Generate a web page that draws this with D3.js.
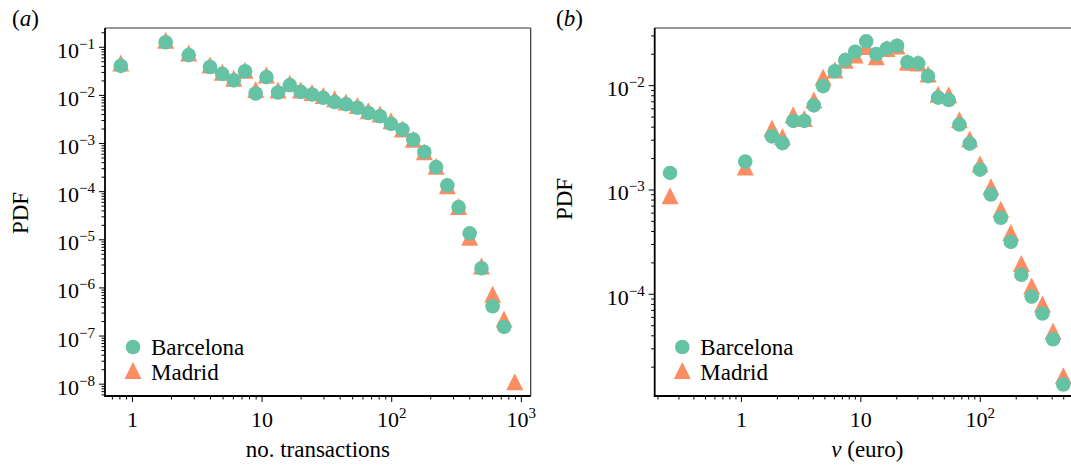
<!DOCTYPE html>
<html>
<head>
<meta charset="utf-8">
<script src="https://cdn.jsdelivr.net/npm/d3@7"></script>
<style>
  html, body { margin: 0; padding: 0; background: #fff; }
  svg { display: block; }
  svg text { font-family: "Liberation Serif", "Times New Roman", serif; }
</style>
</head>
<body>
<svg id="chart" width="1071" height="470"></svg>
<script>
// (a) distribution of number of transactions per card
const txBins = [0.82, 1.82, 2.74, 4.0, 4.97, 6.1, 7.45, 9.0, 10.9, 13.4, 16.5, 20.0, 24.5, 29.9, 36.6,
  44.8, 54.8, 66.6, 82, 99.6, 122, 148, 180, 222, 271, 331, 403, 497, 606, 742, 898];
const txBarcelona = [0.040, 0.124, 0.067, 0.038, 0.0274, 0.020, 0.031, 0.0107, 0.0234, 0.0112, 0.016,
  0.0116, 0.0102, 0.0087, 0.0071, 0.0064, 0.0054, 0.0042, 0.0036, 0.0025, 0.0019, 0.00118, 6.5e-4,
  3.16e-4, 1.32e-4, 4.65e-5, 1.33e-5, 2.5e-6, 4.05e-7, 1.51e-7, null];
const txMadrid = [0.046, 0.136, 0.074, 0.042, 0.0297, 0.0223, 0.0327, 0.0130, 0.026, 0.0127, 0.0175,
  0.0127, 0.0112, 0.0097, 0.0083, 0.0071, 0.0060, 0.0047, 0.0040, 0.0029, 0.00195, 0.0012, 6.6e-4,
  3.3e-4, 1.29e-4, 4.8e-5, 1.1e-5, 2.8e-6, 7.2e-7, 2.2e-7, 1.1e-8];

// (b) distribution of transaction value (euro)
const euroBins = [0.255, 1.087, 1.82, 2.23, 2.74, 3.39, 4.08, 4.88, 6.12, 7.47, 9.05, 11.2, 13.6, 16.7,
  20.3, 24.8, 30.5, 36.9, 44.8, 55, 67.6, 82.4, 100.6, 124, 150, 182, 223, 272, 335, 411, 501];
const euroBarcelona = [1.44e-3, 1.85e-3, 3.23e-3, 2.78e-3, 4.54e-3, 4.54e-3, 6.4e-3, 9.8e-3, 0.0136,
  0.0174, 0.0209, 0.0263, 0.0199, 0.0225, 0.0239, 0.0166, 0.0162, 0.0122, 7.6e-3, 7.2e-3, 4.19e-3,
  2.75e-3, 1.55e-3, 8.95e-4, 5.35e-4, 3.14e-4, 1.52e-4, 9.4e-5, 6.46e-5, 3.66e-5, 1.35e-5];
const euroMadrid = [8.7e-4, 1.64e-3, 3.86e-3, 3.2e-3, 5.2e-3, 4.8e-3, 7.2e-3, 0.0119, 0.014, 0.0173,
  0.0195, 0.0235, 0.0187, 0.0225, 0.0237, 0.0166, 0.0163, 0.0128, 8.2e-3, 8.1e-3, 4.65e-3, 3.05e-3,
  1.75e-3, 1.06e-3, 6.45e-4, 3.86e-4, 1.95e-4, 1.19e-4, 8.0e-5, 4.37e-5, 1.64e-5];

const cities = ['Barcelona', 'Madrid'];
const txMajorX = [1, 10, 100, 1000];
const txMajorY = [1e-8, 1e-7, 1e-6, 1e-5, 1e-4, 1e-3, 1e-2, 1e-1];
const euroMajorX = [1, 10, 100];
const euroMajorY = [1e-4, 1e-3, 1e-2];

const colBarcelona = '#66c2a5';
const colMadrid = '#fc8d62';
const serif = '"Liberation Serif", "Times New Roman", serif';

const svg = d3.select('#chart');

// minor ticks 2..9 of every decade that falls inside the domain
function minorTicks(domain) {
    const out = [];
    const lo = Math.floor(Math.log10(domain[0])), hi = Math.ceil(Math.log10(domain[1]));
    for (let e = lo; e <= hi; e++) {
        for (let m = 2; m <= 9; m++) {
            const v = m * Math.pow(10, e);
            if (v >= domain[0] && v <= domain[1]) out.push(v);
        }
    }
    return out;
}

// "10" with a superscript exponent, or plain 1 / 10
function powLabel(sel, v, plainSmall) {
    const e = Math.round(Math.log10(v));
    sel.text(null);
    if (plainSmall && e === 0) { sel.text('1'); return; }
    if (plainSmall && e === 1) { sel.text('10'); return; }
    sel.append('tspan').text('10');
    sel.append('tspan').attr('dy', -9).attr('font-size', 15)
        .text(e < 0 ? '\u2212' + (-e) : String(e));
}

function trianglePath(s) {
    return `M0,${-s / 2}L${s / 2},${s / 2}L${-s / 2},${s / 2}Z`;
}

function styleAxis(a) {
    a.select('.domain').remove();
    a.attr('font-family', serif).attr('font-size', 22);
    a.selectAll('.tick line').attr('stroke', '#000').attr('stroke-width', 1);
    a.selectAll('.tick text').attr('fill', '#000').attr('font-family', serif).attr('font-size', 22);
}

function drawPanel(p) {
    const g = svg.append('g').attr('font-family', serif);
    const x = d3.scaleLog().domain(p.xDomain).range([p.left, p.right]);
    const y = d3.scaleLog().domain(p.yDomain).range([p.bottom, p.top]);

    // minor ticks, no labels
    styleAxis(g.append('g').attr('transform', `translate(0,${p.bottom})`)
        .call(d3.axisBottom(x).tickValues(minorTicks(p.xDomain)).tickSize(3.5).tickFormat(() => '')));
    styleAxis(g.append('g').attr('transform', `translate(${p.left},0)`)
        .call(d3.axisLeft(y).tickValues(minorTicks(p.yDomain)).tickSize(3.5).tickFormat(() => '')));

    // major ticks with power-of-ten labels
    const ax = g.append('g').attr('transform', `translate(0,${p.bottom})`)
        .call(d3.axisBottom(x).tickValues(p.xMajor).tickSize(6));
    styleAxis(ax);
    ax.selectAll('.tick text').each(function (d) {
        const t = d3.select(this).attr('dy', null).attr('y', 31);
        powLabel(t, d, true);
    });
    const ay = g.append('g').attr('transform', `translate(${p.left},0)`)
        .call(d3.axisLeft(y).tickValues(p.yMajor).tickSize(6));
    styleAxis(ay);
    ay.selectAll('.tick text').each(function (d) {
        const t = d3.select(this).attr('dy', null).attr('y', 10.5).attr('x', -10);
        powLabel(t, d, false);
    });

    // spines
    g.append('line').attr('x1', p.left).attr('x2', p.right).attr('y1', p.top).attr('y2', p.top)
        .attr('stroke', '#333').attr('stroke-width', 1.2);
    if (p.rightSpine) {
        g.append('line').attr('x1', p.right).attr('x2', p.right).attr('y1', p.top).attr('y2', p.bottom)
            .attr('stroke', '#333').attr('stroke-width', 1.2);
    }
    g.append('line').attr('x1', p.left).attr('x2', p.left).attr('y1', p.top).attr('y2', p.bottom + 0.8)
        .attr('stroke', '#000').attr('stroke-width', 1.8);
    g.append('line').attr('x1', p.left - 0.8).attr('x2', p.right).attr('y1', p.bottom).attr('y2', p.bottom)
        .attr('stroke', '#000').attr('stroke-width', 1.8);

    // markers: Madrid first, Barcelona drawn on top
    const madrid = p.bins.map((b, i) => [b, p.madrid[i]]).filter(d => d[1] != null);
    const barca = p.bins.map((b, i) => [b, p.barca[i]]).filter(d => d[1] != null);
    g.append('g').selectAll('path').data(madrid).join('path')
        .attr('d', trianglePath(17))
        .attr('transform', d => `translate(${x(d[0])},${y(d[1])})`)
        .attr('fill', colMadrid);
    g.append('g').selectAll('circle').data(barca).join('circle')
        .attr('cx', d => x(d[0])).attr('cy', d => y(d[1])).attr('r', 7.3)
        .attr('fill', colBarcelona);

    // legend
    const lx = p.left + p.legendDx;
    const leg = g.append('g');
    leg.append('circle').attr('cx', lx).attr('cy', 347).attr('r', 7.3).attr('fill', colBarcelona);
    leg.append('path').attr('d', trianglePath(17)).attr('transform', `translate(${lx},370.5)`).attr('fill', colMadrid);
    leg.selectAll('text').data(cities).join('text')
        .attr('x', lx + 18).attr('y', (d, i) => 355 + i * 24.5)
        .attr('font-family', serif).attr('font-size', 23).text(d => d);

    // axis titles
    const xt = g.append('text').attr('x', (p.left + p.right) / 2).attr('y', 457)
        .attr('text-anchor', 'middle').attr('font-family', serif).attr('font-size', 23);
    if (p.xItalic) {
        xt.append('tspan').attr('font-style', 'italic').text(p.xItalic);
        xt.append('tspan').text(p.xTitle);
    } else {
        xt.text(p.xTitle);
    }
    g.append('text').attr('transform', `translate(${p.yTitleX},${p.yTitleY}) rotate(-90)`)
        .attr('text-anchor', 'middle').attr('dy', '0.35em')
        .attr('font-family', serif).attr('font-size', 23).text('PDF');

    const pl = g.append('text').attr('x', p.tagX).attr('y', 26)
        .attr('font-family', serif).attr('font-size', 23);
    pl.append('tspan').text('(');
    pl.append('tspan').attr('font-style', 'italic').text(p.tag);
    pl.append('tspan').text(')');
}

drawPanel({
    left: 105, right: 530.7, top: 28, bottom: 396,
    xDomain: [Math.pow(10, -0.208), Math.pow(10, 3.076)],
    yDomain: [Math.pow(10, -8.256), Math.pow(10, -0.61)],
    xMajor: txMajorX, yMajor: txMajorY,
    bins: txBins, barca: txBarcelona, madrid: txMadrid,
    rightSpine: true, legendDx: 28,
    xTitle: 'no. transactions', yTitleX: 20, yTitleY: 213,
    tag: 'a', tagX: 12
});

drawPanel({
    left: 654.7, right: 1080, top: 28, bottom: 396,
    xDomain: [Math.pow(10, -0.722), Math.pow(10, 339.3 / 119.5)],
    yDomain: [Math.pow(10, -4.98), Math.pow(10, -1.452)],
    xMajor: euroMajorX, yMajor: euroMajorY,
    bins: euroBins, barca: euroBarcelona, madrid: euroMadrid,
    rightSpine: false, legendDx: 27.6,
    xItalic: 'v', xTitle: ' (euro)', yTitleX: 564, yTitleY: 199,
    tag: 'b', tagX: 556
});
</script>
</body>
</html>
